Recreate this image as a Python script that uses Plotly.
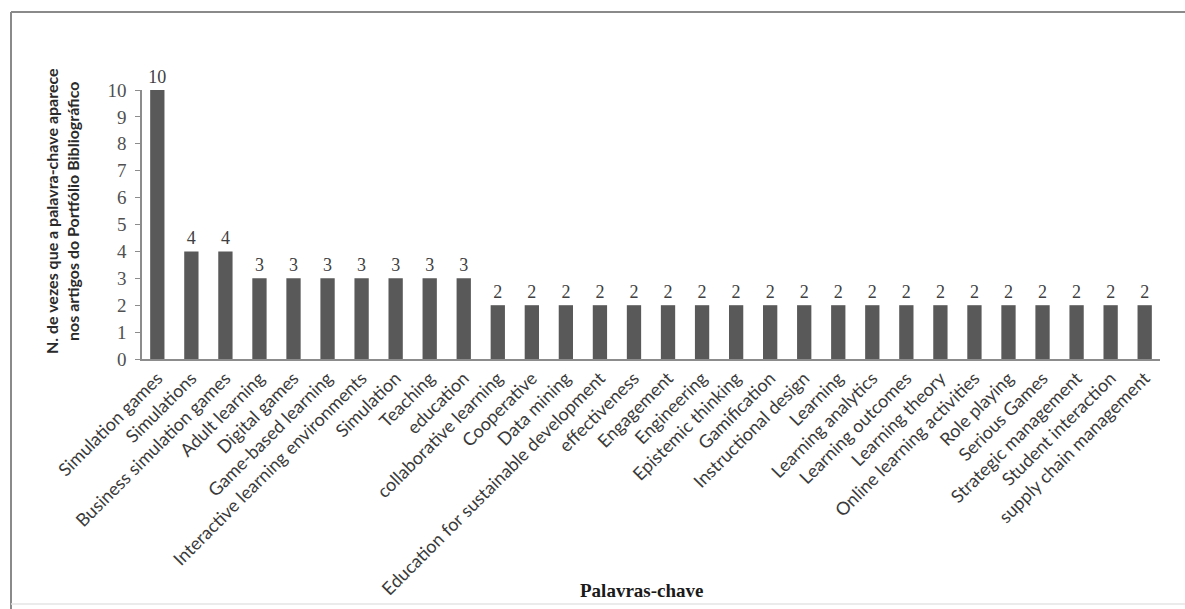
import plotly.graph_objects as go

# Keywords and how many times each appears in the bibliographic portfolio
keywords = [
    "Simulation games", "Simulations", "Business simulation games", "Adult learning",
    "Digital games", "Game-based learning", "Interactive learning environments",
    "Simulation", "Teaching", "education", "collaborative learning", "Cooperative",
    "Data mining", "Education for sustainable development", "effectiveness",
    "Engagement", "Engineering", "Epistemic thinking", "Gamification",
    "Instructional design", "Learning", "Learning analytics", "Learning outcomes",
    "Learning theory", "Online learning activities", "Role playing", "Serious Games",
    "Strategic management", "Student interaction", "supply chain management",
]
counts = [10, 4, 4, 3, 3, 3, 3, 3, 3, 3, 2, 2, 2, 2, 2, 2, 2, 2, 2, 2,
          2, 2, 2, 2, 2, 2, 2, 2, 2, 2]
y_ticks = list(range(0, 11))

y_title_lines = [
    "N. de vezes que a palavra-chave aparece",
    "nos artigos do Portfólio Bibliográfico",
]
x_title = "Palavras-chave"

fig = go.Figure(
    go.Bar(
        x=keywords,
        y=counts,
        marker=dict(color="#595959", line=dict(width=0)),
        width=0.42,
        text=[str(c) for c in counts],
        textposition="outside",
        constraintext="none",
        textfont=dict(family="Liberation Serif", size=18, color="#404040"),
        cliponaxis=False,
    )
)

# Plot-area geometry in pixels, used to place the frame around the figure
L, R, T, B = 142, 25, 90, 250
W, H = 1185, 609
pw, ph = W - L - R, H - T - B


def px_x(x):
    return (x - L) / pw


def px_y(y):
    return (H - B - y) / ph


frame_color = "#8a8a8a"

fig.update_layout(
    width=W,
    height=H,
    margin=dict(l=L, r=R, t=T, b=B),
    paper_bgcolor="white",
    plot_bgcolor="white",
    showlegend=False,
    xaxis=dict(
        automargin=False,
        tickangle=-45,
        tickfont=dict(family="Lato", size=18, color="#3a3a3a"),
        showline=True,
        linecolor="#8c8c8c",
        linewidth=1.5,
        ticks="",
        showgrid=False,
        range=[-0.45, len(keywords) - 0.55],
    ),
    yaxis=dict(
        automargin=False,
        range=[0, 10],
        tickvals=y_ticks,
        tickfont=dict(family="Liberation Serif", size=19, color="#505050"),
        ticklabelstandoff=5,
        showline=True,
        linecolor="#8c8c8c",
        linewidth=1.5,
        ticks="outside",
        ticklen=5,
        tickcolor="#8c8c8c",
        showgrid=False,
        zeroline=False,
    ),
    annotations=[
        dict(
            text="<b>" + y_title_lines[0] + "</b>",
            xref="paper", yref="paper",
            x=px_x(51), y=px_y(211),
            xanchor="center", yanchor="middle",
            textangle=-90, showarrow=False,
            font=dict(family="Lato", size=16, color="#2a2a2a"),
        ),
        dict(
            text="<b>" + y_title_lines[1] + "</b>",
            xref="paper", yref="paper",
            x=px_x(72), y=px_y(211),
            xanchor="center", yanchor="middle",
            textangle=-90, showarrow=False,
            font=dict(family="Lato", size=16, color="#2a2a2a"),
        ),
        dict(
            text="<b>" + x_title + "</b>",
            xref="paper", yref="paper",
            x=px_x(641), y=px_y(590),
            xanchor="center", yanchor="middle",
            showarrow=False,
            font=dict(family="Liberation Serif", size=19, color="#1a1a1a"),
        ),
    ],
    shapes=[
        # left and top edges of the frame
        dict(
            type="line", xref="paper", yref="paper",
            x0=px_x(11), x1=px_x(11), y0=px_y(612), y1=px_y(12),
            line=dict(color=frame_color, width=2), layer="below",
        ),
        dict(
            type="line", xref="paper", yref="paper",
            x0=px_x(11), x1=px_x(1195), y0=px_y(12), y1=px_y(12),
            line=dict(color=frame_color, width=2), layer="below",
        ),
        # faint bottom edge
        dict(
            type="line", xref="paper", yref="paper",
            x0=px_x(11), x1=px_x(1195), y0=px_y(604), y1=px_y(604),
            line=dict(color="#e4e4e4", width=1.5), layer="below",
        ),
    ],
)

fig.write_html("out.html")
